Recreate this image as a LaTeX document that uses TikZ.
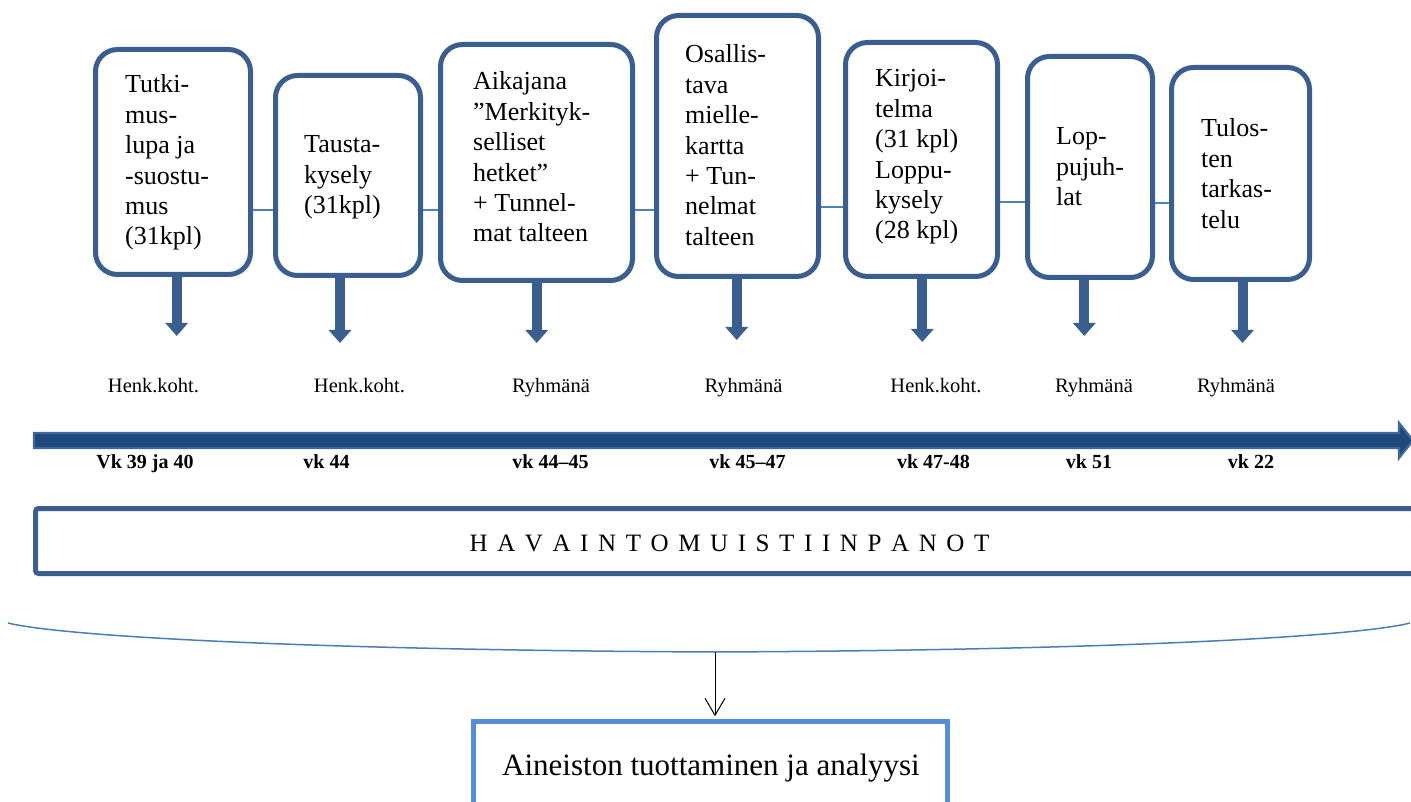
\documentclass[tikz,border=0pt]{standalone}
\usepackage{fontspec}
\setmainfont{Liberation Serif}
\newfontfamily\tnr{Liberation Serif}
\usetikzlibrary{arrows.meta}
\definecolor{boxblue}{HTML}{3A5F8E}
\definecolor{linkblue}{HTML}{4F81BD}
\definecolor{banddark}{HTML}{1F497D}
\definecolor{bandlight}{HTML}{41679A}
\definecolor{curveblue}{HTML}{4A7EBB}
\definecolor{lowblue}{HTML}{558ED5}
\begin{document}
\begin{tikzpicture}[x=1pt,y=-1pt,
  stagebox/.style={draw=boxblue,line width=5pt,rounded corners=22pt,fill=white,inner sep=0pt},
  boxtext/.style={anchor=base west,inner sep=0pt,font=\tnr\fontsize{26}{30.4}\selectfont},
  linkline/.style={draw=linkblue,line width=1.3pt},
  fatarrow/.style={draw=boxblue,line width=10pt,-{Triangle[width=22pt,length=13pt]}},
  modelabel/.style={anchor=base,inner sep=0pt,font=\tnr\fontsize{20.5}{24}\selectfont},
  weeklabel/.style={anchor=base,inner sep=0pt,font=\tnr\fontsize{20}{24}\selectfont\bfseries}]
\clip (0,0) rectangle (1411,802);
\fill[white] (0,0) rectangle (1411,802);

% link levels
\coordinate (y12) at (0,210);
\coordinate (y23) at (0,210);
\coordinate (y34) at (0,210);
\coordinate (y45) at (0,207);
\coordinate (y56) at (0,202);
\coordinate (y67) at (0,203);

% stage boxes
\node[stagebox,minimum width=155pt,minimum height=225pt] (b1) at (173,162) {};
\node[stagebox,minimum width=145pt,minimum height=200pt] (b2) at (348,175.5) {};
\node[stagebox,minimum width=192pt,minimum height=236pt] (b3) at (536.5,162.5) {};
\node[stagebox,minimum width=162pt,minimum height=261pt] (b4) at (737.5,146) {};
\node[stagebox,minimum width=152pt,minimum height=234pt] (b5) at (921.5,159.5) {};
\node[stagebox,minimum width=125pt,minimum height=221pt] (b6) at (1090,167) {};
\node[stagebox,minimum width=138pt,minimum height=212pt] (b7) at (1240.5,173.5) {};

\draw[linkline] (b1.east |- y12) -- (b2.west |- y12);
\draw[linkline] (b2.east |- y23) -- (b3.west |- y23);
\draw[linkline] (b3.east |- y34) -- (b4.west |- y34);
\draw[linkline] (b4.east |- y45) -- (b5.west |- y45);
\draw[linkline] (b5.east |- y56) -- (b6.west |- y56);
\draw[linkline] (b6.east |- y67) -- (b7.west |- y67);

% box texts
\node[boxtext] (t1) at (125,93) {\begin{tabular}[t]{@{}l@{}}Tutki-\\mus-\\lupa ja\\-suostu-\\mus\\(31kpl)\end{tabular}};
\node[boxtext] (t2) at (304,153) {\begin{tabular}[t]{@{}l@{}}Tausta-\\kysely\\(31kpl)\end{tabular}};
\node[boxtext] (t3) at (473,90) {\begin{tabular}[t]{@{}l@{}}Aikajana\\”Merkityk-\\selliset\\hetket”\\+ Tunnel-\\mat talteen\end{tabular}};
\node[boxtext] (t4) at (685,63) {\begin{tabular}[t]{@{}l@{}}Osallis-\\tava\\mielle-\\kartta\\+ Tun-\\nelmat\\talteen\end{tabular}};
\node[boxtext] (t5) at (875,87) {\begin{tabular}[t]{@{}l@{}}Kirjoi-\\telma\\(31 kpl)\\Loppu-\\kysely\\(28 kpl)\end{tabular}};
\node[boxtext] (t6) at (1056,145) {\begin{tabular}[t]{@{}l@{}}Lop-\\pujuh-\\lat\end{tabular}};
\node[boxtext] (t7) at (1201,137) {\begin{tabular}[t]{@{}l@{}}Tulos-\\ten\\tarkas-\\telu\end{tabular}};

% arrow tips
\coordinate (a1) at (176.7,336);
\coordinate (a2) at (340,343);
\coordinate (a3) at (536.7,343);
\coordinate (a4) at (736.7,340);
\coordinate (a5) at (922.3,342);
\coordinate (a6) at (1084.3,336);
\coordinate (a7) at (1242.5,343);
\draw[fatarrow] (b1.south -| a1) -- (a1);
\draw[fatarrow] (b2.south -| a2) -- (a2);
\draw[fatarrow] (b3.south -| a3) -- (a3);
\draw[fatarrow] (b4.south -| a4) -- (a4);
\draw[fatarrow] (b5.south -| a5) -- (a5);
\draw[fatarrow] (b6.south -| a6) -- (a6);
\draw[fatarrow] (b7.south -| a7) -- (a7);

% mode labels
\node[modelabel] (l1) at (153.5,392) {Henk.koht.};
\node[modelabel] (l2) at (359.5,392) {Henk.koht.};
\node[modelabel] (l3) at (551,392) {Ryhmänä};
\node[modelabel] (l4) at (743.5,392) {Ryhmänä};
\node[modelabel] (l5) at (936,392) {Henk.koht.};
\node[modelabel] (l6) at (1094,392) {Ryhmänä};
\node[modelabel] (l7) at (1236,392) {Ryhmänä};

% timeline arrow
\filldraw[fill=banddark,draw=bandlight,line width=2.3pt,line join=miter]
  (34,433) -- (1399,433) -- (1399,423) -- (1413,440.5) -- (1399,458) -- (1399,448) -- (34,448) -- cycle;

% week labels
\node[weeklabel] (w1) at (145,468) {Vk 39 ja 40};
\node[weeklabel] (w2) at (326.5,468) {vk 44};
\node[weeklabel] (w3) at (550.5,468) {vk 44–45};
\node[weeklabel] (w4) at (747.5,468) {vk 45–47};
\node[weeklabel] (w5) at (933.5,468) {vk 47-48};
\node[weeklabel] (w6) at (1089,468) {vk 51};
\node[weeklabel] (w7) at (1251,468) {vk 22};

% observation notes band
\node[draw=boxblue,line width=5pt,rounded corners=3pt,minimum width=1390pt,minimum height=65pt,inner sep=0pt] (hv) at (730.5,541) {};
\node[anchor=base,inner sep=0pt,font=\tnr\fontsize{25}{30}\selectfont] (hvt) at (729.5,551)
  {\spaceskip=9.6pt\relax H A V A I N T O M U I S T I I N P A N O T};

% brace curve
\coordinate (cl) at (8,623);
\coordinate (cm) at (715,652);
\coordinate (cr) at (1410,623);
\draw[curveblue,line width=1.5pt] (cl) .. controls (60,636) and (300,650) .. (cm) .. controls (1130,650) and (1360,636) .. (cr);

% result box
\node[draw=lowblue,line width=4.5pt,minimum width=474pt,minimum height=120pt,inner sep=0pt] (ab) at (710.5,781.5) {};
\node[anchor=base,inner sep=0pt,font=\tnr\fontsize{31}{36}\selectfont] (abt) at (711,775) {Aineiston tuottaminen ja analyysi};
\draw[black,line width=1pt,shorten >=3pt,-{Straight Barb[length=17pt,width=20pt]}] (cm) -- (ab.north -| cm);
\end{tikzpicture}
\end{document}
